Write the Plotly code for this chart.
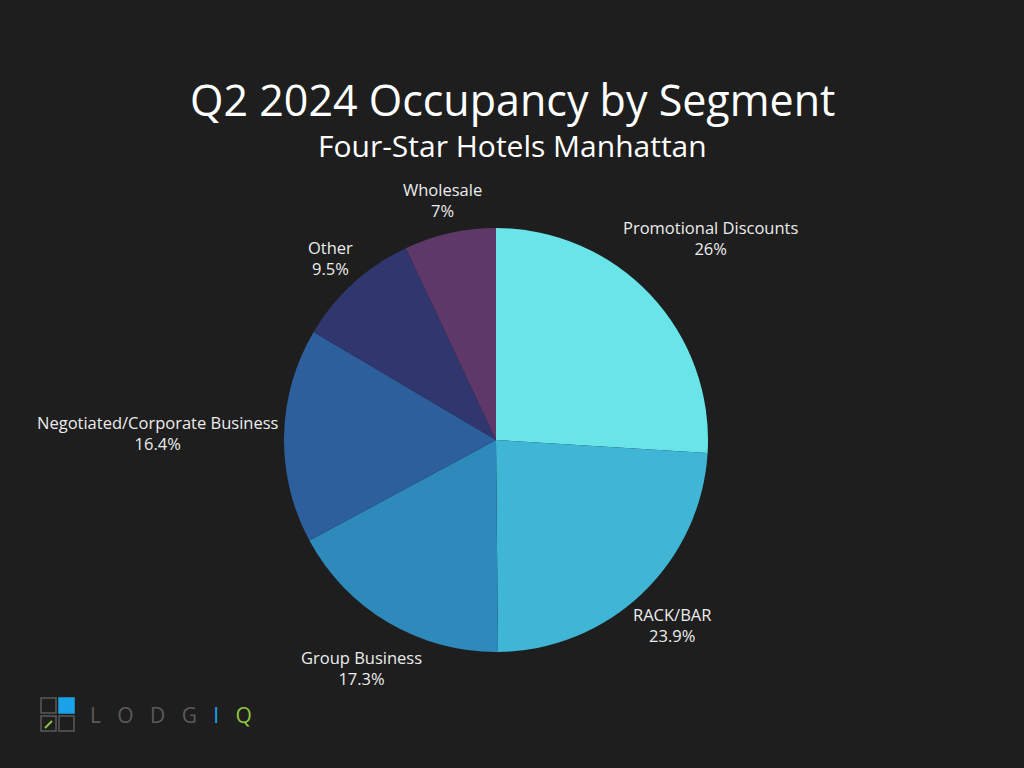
import math
import plotly.graph_objects as go

segments = ["Promotional Discounts", "RACK/BAR", "Group Business",
            "Negotiated/Corporate Business", "Other", "Wholesale"]
shares = [26, 23.9, 17.3, 16.4, 9.5, 7]
colors = ["#69E5EA", "#40B6D6", "#2E8ABB", "#2D5F9C", "#30366E", "#5E3868"]

W, H = 1024, 768
cx, cy, r = 496, 440, 212
BG = "#1e1e1e"
FONT = "Open Sans"
LBL = 16.5

fig = go.Figure(go.Pie(
    labels=segments, values=shares, sort=False, direction="clockwise",
    rotation=0, marker=dict(colors=colors, line=dict(width=0)),
    textinfo="none", hoverinfo="skip", showlegend=False,
    domain=dict(x=[(cx - r) / W, (cx + r) / W],
                y=[(H - cy - r) / H, (H - cy + r) / H]),
))

# outside labels placed along each slice's mid-angle
total = sum(shares)
cum = 0.0
for name, v in zip(segments, shares):
    mid = (cum + v / 2) / total * 2 * math.pi
    cum += v
    dx, dy = math.sin(mid), -math.cos(mid)
    txt = f"{name}<br>{v:g}%"
    hw = max(len(name), len(f"{v:g}%")) * 0.505 * LBL / 2
    hh = 21
    R = r + 5 + hw * abs(dx) + hh * abs(dy)
    lx, ly = cx + R * dx, cy + R * dy
    fig.add_annotation(text=txt, x=lx / W, y=(H - ly) / H, xref="paper", yref="paper",
                       xanchor="center", yanchor="middle", showarrow=False,
                       font=dict(size=LBL, color="#ececec", family=FONT))

fig.update_layout(
    width=W, height=H, paper_bgcolor=BG, plot_bgcolor=BG,
    margin=dict(l=0, r=0, t=0, b=0),
    font=dict(family=FONT, color="#ffffff"),
)

fig.add_annotation(text="Q2 2024 Occupancy by Segment", x=0.5, y=(H - 99) / H,
                   xref="paper", yref="paper", showarrow=False,
                   xanchor="center", yanchor="middle",
                   font=dict(size=43, color="#ffffff", family=FONT))
fig.add_annotation(text="Four-Star Hotels Manhattan", x=0.5, y=(H - 145) / H,
                   xref="paper", yref="paper", showarrow=False,
                   xanchor="center", yanchor="middle",
                   font=dict(size=30, color="#ffffff", family=FONT))

# logo
def px(x, y):
    return x / W, (H - y) / H
for (x0, y0, fill) in [(41, 698, None), (59, 698, "#1aa3e8"), (41, 716, None), (59, 716, None)]:
    a = px(x0, y0); b = px(x0 + 15, y0 + 15)
    fig.add_shape(type="rect", xref="paper", yref="paper", x0=a[0], y0=b[1], x1=b[0], y1=a[1],
                  line=dict(color="#1aa3e8" if fill else "#5a5a5a", width=1.5),
                  fillcolor=fill if fill else "rgba(0,0,0,0)")
a = px(45, 728); b = px(52, 721)
fig.add_shape(type="line", xref="paper", yref="paper", x0=a[0], y0=a[1], x1=b[0], y1=b[1],
              line=dict(color="#8cc63f", width=2))
fig.add_annotation(text="<span style='color:#5a5a5a'>L   O   D   G   </span><span style='color:#1aa3e8'>I</span>   <span style='color:#8cc63f'>Q</span>",
                   x=88 / W, y=(H - 715) / H, xref="paper", yref="paper",
                   xanchor="left", yanchor="middle", showarrow=False,
                   font=dict(size=21, family=FONT))

fig.write_html("out.html")
